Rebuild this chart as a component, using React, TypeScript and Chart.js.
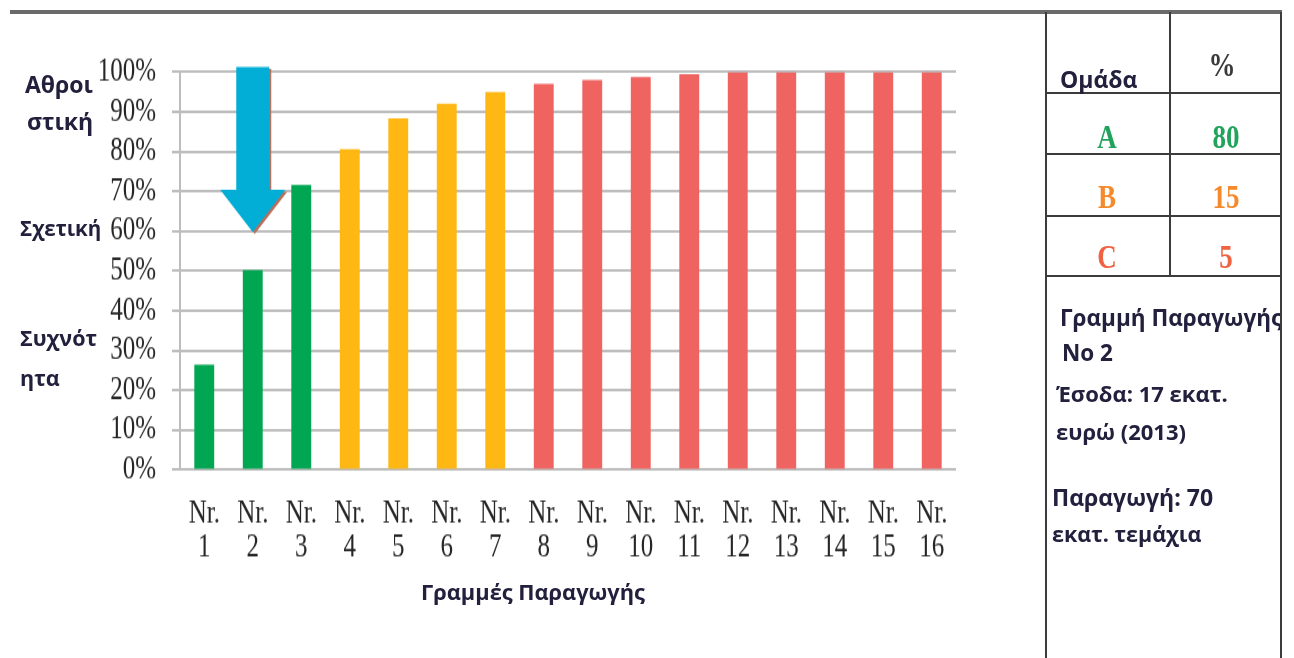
import { useEffect, useRef } from "react";
import { Chart, registerables } from "chart.js";

Chart.register(...registerables);

// Production lines and the cumulative share each one reaches (percent)
const lineNumbers = ["1", "2", "3", "4", "5", "6", "7", "8", "9", "10", "11", "12", "13", "14", "15", "16"];
const cumulativeShare = [26.4, 50.2, 71.6, 80.6, 88.4, 92, 95, 97, 98, 98.7, 99.5, 100, 100, 100, 100, 100];
const lineGroup = ["A", "A", "A", "B", "B", "B", "B", "C", "C", "C", "C", "C", "C", "C", "C", "C"];

// ABC groups and their share
const groupNames = ["A", "B", "C"];
const groupPercent = [80, 15, 5];
const groupBarColors: Record<string, string> = { A: "#00A651", B: "#FFB714", C: "#EF6461" };
const groupTextColors = ["#22A35C", "#F58A2C", "#EF6342"];

// Y axis
const yMin = 0;
const yMax = 100;
const yStep = 10;

// Highlight arrow pointing at line Nr. 2 (values on the percent axis)
const arrowLineIndex = 1;
const arrowTop = 101.3;
const arrowHeadBase = 70.4;
const arrowTip = 59.8;

// Side notes
const yTitleLines = [
  { text: "Αθροι", left: 25, cy: 84, size: 23 },
  { text: "στική", left: 27, cy: 121, size: 23 },
  { text: "Σχετική", left: 20, cy: 228, size: 20.5 },
  { text: "Συχνότ", left: 20, cy: 338, size: 21.5 },
  { text: "ητα", left: 20, cy: 378, size: 21.5 },
];
const infoLines = [
  { text: "Γραμμή Παραγωγής", left: 1060, cy: 318, size: 22.5 },
  { text: "Νο 2", left: 1062, cy: 353, size: 22.5 },
  { text: "Έσοδα: 17 εκατ.", left: 1056, cy: 393, size: 22 },
  { text: "ευρώ (2013)", left: 1056, cy: 431, size: 22 },
  { text: "Παραγωγή: 70", left: 1052, cy: 497, size: 23 },
  { text: "εκατ. τεμάχια", left: 1052, cy: 534, size: 21.5 },
];
const xTitle = "Γραμμές Παραγωγής";

const STRETCH = 1.3;
const CANVAS_W = 1040;
const CANVAS_H = 658 / STRETCH;

const serif = "'Liberation Serif', 'Times New Roman', serif";
const sans = "'Open Sans', 'Noto Sans', sans-serif";
const ink = "#22203c";

const arrowPlugin = {
  id: "lineArrow",
  afterDatasetsDraw(chart: any) {
    const x = chart.scales.x;
    const y = chart.scales.y;
    const cx = x.getPixelForValue(arrowLineIndex);
    const yTop = y.getPixelForValue(arrowTop);
    const yBase = y.getPixelForValue(arrowHeadBase);
    const yTip = y.getPixelForValue(arrowTip);
    const shaft = 16.5;
    const head = 32.5;
    const ctx = chart.ctx;
    const path = () => {
      ctx.beginPath();
      ctx.moveTo(cx - shaft, yTop);
      ctx.lineTo(cx + shaft, yTop);
      ctx.lineTo(cx + shaft, yBase);
      ctx.lineTo(cx + head, yBase);
      ctx.lineTo(cx, yTip);
      ctx.lineTo(cx - head, yBase);
      ctx.lineTo(cx - shaft, yBase);
      ctx.closePath();
    };
    ctx.save();
    ctx.translate(2, 1.5);
    path();
    ctx.fillStyle = "#b9705c";
    ctx.fill();
    ctx.restore();
    ctx.save();
    path();
    ctx.fillStyle = "#02AED6";
    ctx.fill();
    ctx.restore();
  },
};

function ParetoChart() {
  const ref = useRef<HTMLCanvasElement | null>(null);
  useEffect(() => {
    if (!ref.current) return;
    const chart = new Chart(ref.current, {
      type: "bar",
      data: {
        labels: lineNumbers.map((n) => ["Nr.", n]),
        datasets: [
          {
            data: cumulativeShare,
            backgroundColor: lineGroup.map((g) => groupBarColors[g]),
            borderWidth: 0,
            barPercentage: 0.41,
            categoryPercentage: 1,
          },
        ],
      },
      options: {
        animation: false,
        responsive: false,
        devicePixelRatio: 1,
        layout: { padding: { left: 0, right: CANVAS_W - 956, top: 72 / STRETCH, bottom: 0 } },
        plugins: { legend: { display: false }, tooltip: { enabled: false }, title: { display: false } },
        scales: {
          x: {
            grid: { display: false, drawTicks: false },
            border: { display: false },
            ticks: {
              color: "#262626",
              font: { family: serif, size: 25, lineHeight: 1.05 },
              padding: 21,
              maxRotation: 0,
              autoSkip: false,
            },
            afterFit: (scale: any) => {
              scale.height = CANVAS_H - 470 / STRETCH;
            },
          },
          y: {
            min: yMin,
            max: yMax,
            grid: { color: "#bdbdbd", lineWidth: 2, tickLength: 8, tickColor: "#bdbdbd" },
            border: { display: true, color: "#bdbdbd", width: 2 },
            ticks: {
              stepSize: yStep,
              autoSkip: false,
              color: "#262626",
              font: { family: serif, size: 25, lineHeight: 1 },
              padding: 16,
              callback: (v: any) => `${v}%`,
            },
            afterFit: (scale: any) => {
              scale.width = 180;
            },
          },
        },
      },
      plugins: [arrowPlugin],
    });
    return () => chart.destroy();
  }, []);
  return <canvas ref={ref} width={CANVAS_W} height={CANVAS_H} style={{ display: "block" }} />;
}

function Line({ x, y, w, h, color = "#3c3c3c" }: { x: number; y: number; w: number; h: number; color?: string }) {
  return <div style={{ position: "absolute", left: x, top: y, width: w, height: h, background: color }} />;
}

function SansText({ text, left, cy, size = 22 }: { text: string; left: number; cy: number; size?: number }) {
  return (
    <div
      style={{
        position: "absolute",
        left,
        top: cy - 16,
        height: 32,
        lineHeight: "32px",
        whiteSpace: "nowrap",
        fontFamily: sans,
        fontWeight: 700,
        fontSize: size,
        color: ink,
      }}
    >
      {text}
    </div>
  );
}

function SerifCell({ text, cx, cy, color }: { text: string; cx: number; cy: number; color: string }) {
  return (
    <div
      style={{
        position: "absolute",
        left: cx - 40,
        width: 80,
        top: cy - 18,
        height: 36,
        lineHeight: "36px",
        textAlign: "center",
        fontFamily: serif,
        fontWeight: 700,
        fontSize: 27,
        color,
        transform: "scaleY(1.25)",
      }}
    >
      {text}
    </div>
  );
}

export default function App() {
  const rowCenters = [137, 197, 257];
  return (
    <div style={{ position: "fixed", left: 0, top: 0, width: 1294, height: 658, background: "#ffffff", overflow: "hidden" }}>
      <div
        style={{
          position: "absolute",
          left: 0,
          top: 0,
          width: CANVAS_W,
          height: CANVAS_H,
          transform: `scaleY(${STRETCH})`,
          transformOrigin: "0 0",
        }}
      >
        <ParetoChart />
      </div>

      {/* frame and group table */}
      <Line x={10} y={10} w={1272} h={4} color="#6a6a6a" />
      <Line x={1045} y={12} w={2} h={646} />
      <Line x={1280} y={12} w={2} h={646} />
      <Line x={1169} y={12} w={2} h={264} />
      <Line x={1045} y={92} w={237} h={2} />
      <Line x={1045} y={153} w={237} h={2} />
      <Line x={1045} y={215} w={237} h={2} />
      <Line x={1045} y={275} w={237} h={2} />

      <SansText text="Ομάδα" left={1060} cy={79} size={23} />
      <SerifCell text="%" cx={1222} cy={65} color="#3a3a3a" />
      {groupNames.map((g, i) => (
        <SerifCell key={g} text={g} cx={1107} cy={rowCenters[i]} color={groupTextColors[i]} />
      ))}
      {groupPercent.map((p, i) => (
        <SerifCell key={`p${i}`} text={String(p)} cx={1226} cy={rowCenters[i]} color={groupTextColors[i]} />
      ))}

      <div style={{ position: "absolute", left: 1047, top: 277, width: 233, height: 381, overflow: "hidden" }}>
        {infoLines.map((l) => (
          <SansText key={l.text} text={l.text} left={l.left - 1047} cy={l.cy - 277} size={l.size} />
        ))}
      </div>

      {yTitleLines.map((l) => (
        <SansText key={l.text} text={l.text} left={l.left} cy={l.cy} size={l.size} />
      ))}

      <div
        style={{
          position: "absolute",
          left: 533 - 150,
          width: 300,
          top: 592 - 16,
          height: 32,
          lineHeight: "32px",
          textAlign: "center",
          fontFamily: sans,
          fontWeight: 700,
          fontSize: 21.8,
          color: ink,
        }}
      >
        {xTitle}
      </div>
    </div>
  );
}
